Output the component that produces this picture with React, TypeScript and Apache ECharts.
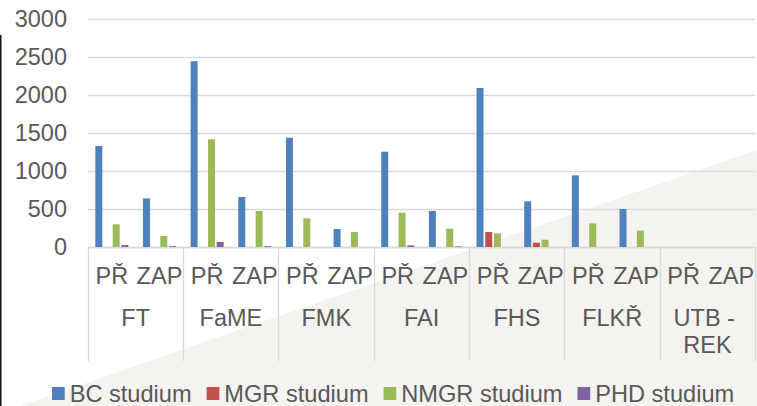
import React, { useEffect, useRef } from "react";
import * as echarts from "echarts";

const faculties = ["FT", "FaME", "FMK", "FAI", "FHS", "FLKŘ", "UTB - REK"];
const studyTypes = ["PŘ", "ZAP"];
const seriesNames = ["BC studium", "MGR studium", "NMGR studium", "PHD studium"];
const seriesColors = ["#4F81BD", "#C0504D", "#9BBB59", "#8064A2"];

const bcValues = [1329, 640, 2443, 658, 1438, 237, 1254, 474, 2092, 601, 943, 500, 0, 0];
const mgrValues = [0, 0, 0, 0, 0, 0, 0, 0, 197, 57, 0, 0, 0, 0];
const nmgrValues = [298, 145, 1417, 474, 377, 197, 451, 241, 180, 96, 311, 215, 0, 0];
const phdValues = [26, 12, 66, 12, 0, 0, 22, 8, 0, 0, 0, 0, 0, 0];

const yTicks = { min: 0, max: 3000, interval: 500 };

const FONT = "'Liberation Sans', Arial, sans-serif";
const TEXT = "#595959";
const GRIDC = "#d9d9d9";

export default function App() {
  const ref = useRef<HTMLDivElement>(null);
  useEffect(() => {
    if (!ref.current) return;
    const chart = echarts.init(ref.current, null, { renderer: "svg" });
    const categories: string[] = [];
    faculties.forEach(() => studyTypes.forEach((t) => categories.push(t)));
    const allValues = [bcValues, mgrValues, nmgrValues, phdValues];
    chart.setOption({
      animation: false,
      backgroundColor: "#ffffff",
      textStyle: { fontFamily: FONT },
      graphic: [
        {
          type: "polygon",
          z: -10,
          silent: true,
          shape: { points: [[20, 406], [757, 150], [757, 406]] },
          style: { fill: "#f4f3ef" },
        },
        {
          type: "line",
          z: 10,
          silent: true,
          shape: { x1: 0.75, y1: 35, x2: 0.75, y2: 406 },
          style: { stroke: "#111111", lineWidth: 1.5 },
        },
      ],
      grid: { left: 88, top: 19, width: 672, height: 228, containLabel: false },
      legend: {
        left: 52,
        top: 381.5,
        padding: 0,
        itemWidth: 12.7,
        itemHeight: 13,
        itemGap: 15,
        icon: "rect",
        textStyle: { color: TEXT, fontSize: 23.6, fontFamily: FONT, lineHeight: 21 },
        data: seriesNames,
      },
      xAxis: [
        {
          type: "category",
          data: categories,
          position: "bottom",
          axisLine: { show: true, lineStyle: { color: GRIDC, width: 1.3 } },
          axisTick: { show: false },
          axisLabel: {
            interval: 0,
            margin: 15,
            color: TEXT,
            fontSize: 23.5,
            fontFamily: FONT,
            lineHeight: 27,
          },
        },
        {
          type: "category",
          data: faculties,
          position: "bottom",
          axisLine: { show: false },
          axisTick: {
            show: true,
            interval: 0,
            length: 114,
            alignWithLabel: false,
            lineStyle: { color: GRIDC, width: 1.3 },
          },
          axisLabel: {
            interval: 0,
            margin: 57,
            color: TEXT,
            fontSize: 23.5,
            fontFamily: FONT,
            lineHeight: 27,
            width: 90,
            overflow: "break",
          },
        },
      ],
      yAxis: {
        type: "value",
        min: yTicks.min,
        max: yTicks.max,
        interval: yTicks.interval,
        axisLine: { show: false },
        axisTick: { show: false },
        splitLine: { lineStyle: { color: GRIDC, width: 1.3 } },
        axisLabel: {
          margin: 21,
          color: TEXT,
          fontSize: 23.5,
          fontFamily: FONT,
          formatter: (v: number) => String(v),
        },
      },
      series: seriesNames.map((name, i) => ({
        name,
        type: "bar",
        xAxisIndex: 0,
        data: allValues[i],
        barWidth: 7,
        barGap: "24%",
        itemStyle: { color: seriesColors[i] },
      })),
    });
    return () => chart.dispose();
  }, []);
  return (
    <div
      ref={ref}
      style={{ position: "fixed", left: 0, top: 0, width: 757, height: 406 }}
    />
  );
}
